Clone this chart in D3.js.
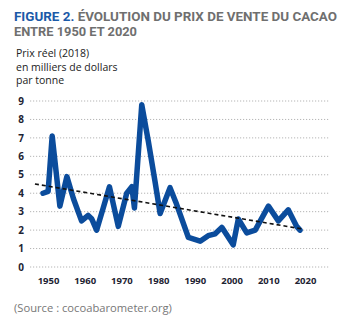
<!DOCTYPE html>
<html>
<head>
<meta charset="utf-8">
<script src="https://cdn.jsdelivr.net/npm/d3@7"></script>
<style>
  body { margin: 0; background: #fff; }
  svg { display: block; }
</style>
</head>
<body>
<div id="graph"></div>
<script>
// price series (thousands of dollars per tonne, real 2018)
const years = [1950, 1951.4, 1952.5, 1954.6, 1956.5, 1958.3, 1960.5, 1962.3, 1963.3, 1964.6,
    1966.4, 1968.1, 1970.5, 1972.8, 1974.2, 1974.9, 1976.9, 1978.7, 1980.5, 1981.9,
    1984.6, 1986.2, 1989.6, 1992.8, 1995, 1996.9, 1998.7, 2001.8, 2003.2, 2005.5,
    2007.8, 2011.4, 2014.1, 2016.8, 2019.1, 2020];
const prices = [4.0, 4.1, 7.1, 3.3, 4.9, 3.7, 2.5, 2.8, 2.6, 2.0,
    3.2, 4.35, 2.2, 4.0, 4.35, 3.2, 8.8, 6.8, 4.65, 2.9,
    4.3, 3.5, 1.6, 1.4, 1.7, 1.8, 2.15, 1.2, 2.6, 1.85,
    2.0, 3.3, 2.5, 3.1, 2.2, 2.0];

// linear trend end points
const trendYears = [1947.8, 2021];
const trendValues = [4.5, 2.05];

const yTicks = [0, 1, 2, 3, 4, 5, 6, 7, 8, 9];
const xTicks = [1950, 1960, 1970, 1980, 1990, 2000, 2010, 2020];

const W = 351, H = 327;

let svg = d3.select("#graph")
    .append("svg")
    .attr("width", W)
    .attr("height", H);

// title
let title = svg.append("text")
    .attr("x", 14)
    .attr("y", 21)
    .attr("font-family", "Roboto, 'DejaVu Sans', sans-serif")
    .attr("font-weight", "bold")
    .attr("font-size", "12.5px")
    .attr("textLength", 323)
    .attr("lengthAdjust", "spacingAndGlyphs");
title.append("tspan").attr("fill", "#1b5aa8").text("FIGURE 2.");
title.append("tspan").attr("fill", "#6f6f6f").text(" ÉVOLUTION DU PRIX DE VENTE DU CACAO");

svg.append("text")
    .attr("x", 14)
    .attr("y", 36)
    .attr("font-family", "Roboto, 'DejaVu Sans', sans-serif")
    .attr("font-weight", "bold")
    .attr("font-size", "12.5px")
    .attr("fill", "#6f6f6f")
    .attr("textLength", 123)
    .attr("lengthAdjust", "spacingAndGlyphs")
    .text("ENTRE 1950 ET 2020");

// unit label
["Prix réel (2018)", "en milliers de dollars", "par tonne"].forEach((d, i) => {
    svg.append("text")
        .attr("x", 16)
        .attr("y", 57 + i * 13.5)
        .attr("font-family", "'Open Sans', sans-serif")
        .attr("font-size", "10.5px")
        .attr("fill", "#222")
        .text(d);
});

// scales
let x = d3.scaleLinear()
    .domain([1950, 2020])
    .range([43, 300]);

let y = d3.scaleLinear()
    .domain([0, 9])
    .range([267, 101]);

// dotted grid
svg.append("g")
    .selectAll("line")
    .data(yTicks)
    .join("line")
    .attr("x1", 30)
    .attr("x2", 330)
    .attr("y1", d => y(d))
    .attr("y2", d => y(d))
    .attr("stroke", "#b5b5b5")
    .attr("stroke-width", 1)
    .attr("stroke-dasharray", "1.2,1.8");

// y axis labels
svg.append("g")
    .call(d3.axisLeft(y).tickValues(yTicks).tickSize(0).tickPadding(0))
    .attr("transform", "translate(24,0)")
    .call(g => g.select(".domain").remove())
    .selectAll("text")
    .attr("font-family", "'Open Sans', sans-serif")
    .attr("font-weight", "bold")
    .attr("font-size", "10px")
    .attr("fill", "#1e2433")
    .style("text-anchor", "middle")
    .attr("x", -3);

// x axis labels
svg.append("g")
    .attr("transform", "translate(5,277)")
    .call(d3.axisBottom(x).tickValues(xTicks).tickFormat(d3.format("d")).tickSize(0).tickPadding(0))
    .call(g => g.select(".domain").remove())
    .selectAll("text")
    .attr("font-family", "'Open Sans', sans-serif")
    .attr("font-weight", "bold")
    .attr("font-size", "9.5px")
    .attr("fill", "#1e2433");

// price line
svg.append("path")
    .datum(d3.zip(years, prices))
    .attr("d", d3.line()
        .x(d => x(d[0]))
        .y(d => y(d[1])))
    .attr("fill", "none")
    .attr("stroke", "#0b4c9c")
    .attr("stroke-width", 5.5)
    .attr("stroke-linejoin", "round")
    .attr("stroke-linecap", "round");

// trend line
svg.append("path")
    .datum(d3.zip(trendYears, trendValues))
    .attr("d", d3.line()
        .x(d => x(d[0]))
        .y(d => y(d[1])))
    .attr("fill", "none")
    .attr("stroke", "#111")
    .attr("stroke-width", 1.6)
    .attr("stroke-dasharray", "4,3");

// source
svg.append("text")
    .attr("x", 14)
    .attr("y", 312)
    .attr("font-family", "'Open Sans', sans-serif")
    .attr("font-size", "11.2px")
    .attr("fill", "#777")
    .text("(Source : cocoabarometer.org)");
</script>
</body>
</html>
